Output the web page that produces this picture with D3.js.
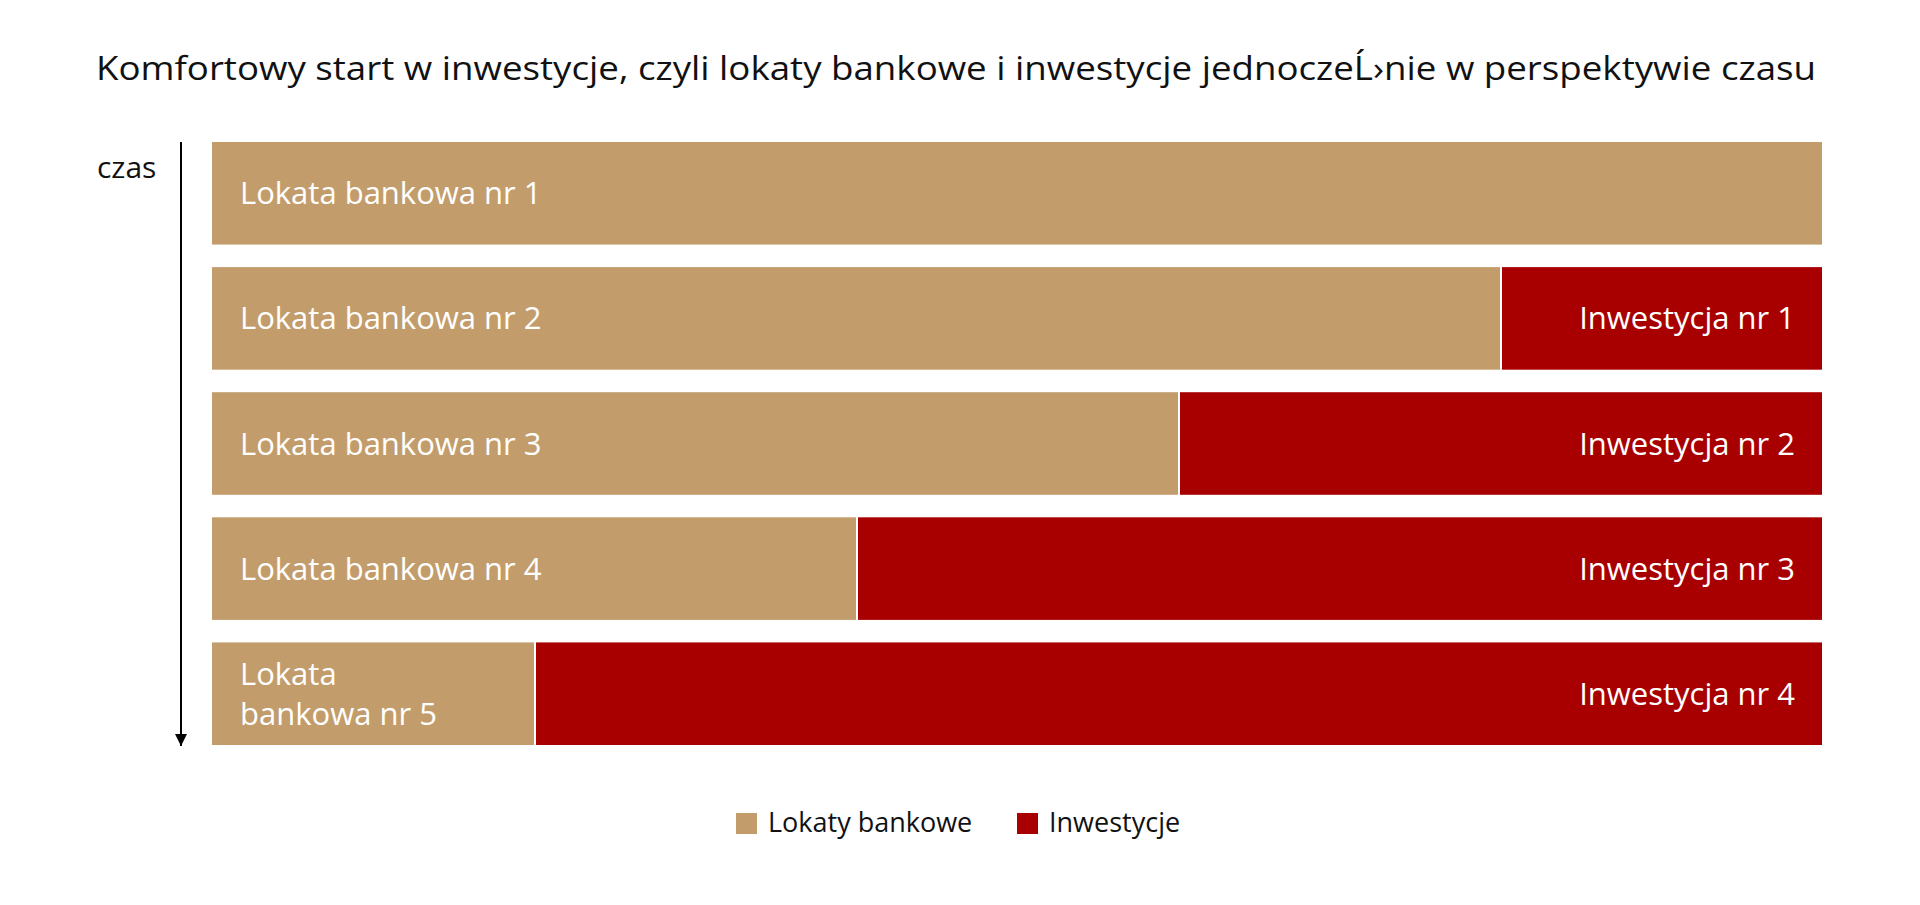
<!DOCTYPE html>
<html>
<head>
<script src="https://d3js.org/d3.v7.min.js"></script>
<style>
  body { margin: 0; background: #fff; }
  text { font-family: "Open Sans", sans-serif; }
</style>
</head>
<body>
<div id="chart"></div>
<script>
// data
const rows = ["r1", "r2", "r3", "r4", "r5"];
const lokaty = [100, 80, 60, 40, 20];
const inwestycje = [0, 20, 40, 60, 80];
const lokatyLabels = ["Lokata bankowa nr 1", "Lokata bankowa nr 2", "Lokata bankowa nr 3", "Lokata bankowa nr 4", "Lokata|bankowa nr 5"];
const inwestLabels = ["", "Inwestycja nr 1", "Inwestycja nr 2", "Inwestycja nr 3", "Inwestycja nr 4"];
const legendItems = ["Lokaty bankowe", "Inwestycje"];
const colors = ["#c29d6b", "#a80000"];

const W = 1920, H = 905;
const svg = d3.select("#chart").append("svg").attr("width", W).attr("height", H);

svg.append("text")
   .attr("x", 956).attr("y", 80)
   .attr("text-anchor", "middle")
   .attr("textLength", 1720).attr("lengthAdjust", "spacingAndGlyphs")
   .style("font-size", "32px").style("fill", "#111")
   .text("Komfortowy start w inwestycje, czyli lokaty bankowe i inwestycje jednocześnie w perspektywie czasu");

const x = d3.scaleLinear().domain([0, 100]).range([212, 1822]);
const y = d3.scaleBand().domain(rows).range([142, 745]).paddingInner(0.18).paddingOuter(0);

// arrow (time axis)
svg.append("defs").append("marker")
   .attr("id", "arrow").attr("viewBox", "0 0 10 10")
   .attr("refX", 10).attr("refY", 5)
   .attr("markerWidth", 6).attr("markerHeight", 8).attr("orient", "auto")
   .append("path").attr("d", "M0,0 L10,5 L0,10 z").style("fill", "#000");
svg.append("line")
   .attr("x1", 181).attr("y1", 142).attr("x2", 181).attr("y2", 746)
   .style("stroke", "#000").style("stroke-width", 2)
   .attr("marker-end", "url(#arrow)");
svg.append("text").attr("x", 97).attr("y", 178)
   .style("font-size", "30px").style("fill", "#111").text("czas");

const g = svg.append("g");
rows.forEach((r, i) => {
  g.append("rect")
   .attr("x", x(0)).attr("y", y(r))
   .attr("width", x(lokaty[i]) - x(0)).attr("height", y.bandwidth())
   .style("fill", colors[0]);
  if (inwestycje[i] > 0) {
    g.append("rect")
     .attr("x", x(lokaty[i]) + 2).attr("y", y(r))
     .attr("width", x(100) - x(lokaty[i]) - 2).attr("height", y.bandwidth())
     .style("fill", colors[1]);
  }
  const parts = lokatyLabels[i].split("|");
  const cy = y(r) + y.bandwidth() / 2;
  parts.forEach((p, k) => {
    g.append("text")
     .attr("x", x(0) + 28)
     .attr("y", cy + 11 + (k - (parts.length - 1) / 2) * 40)
     .style("font-size", "31px").style("fill", "#fff").text(p);
  });
  if (inwestLabels[i]) {
    g.append("text")
     .attr("x", x(100) - 27).attr("y", cy + 11)
     .attr("text-anchor", "end")
     .style("font-size", "31px").style("fill", "#fff").text(inwestLabels[i]);
  }
});

// legend
const lx = [736, 1017];
legendItems.forEach((t, i) => {
  svg.append("rect").attr("x", lx[i]).attr("y", 813).attr("width", 21).attr("height", 21)
     .style("fill", colors[i]);
  svg.append("text").attr("x", lx[i] + 32).attr("y", 832)
     .style("font-size", "27px").style("fill", "#111").text(t);
});
</script>
</body>
</html>
